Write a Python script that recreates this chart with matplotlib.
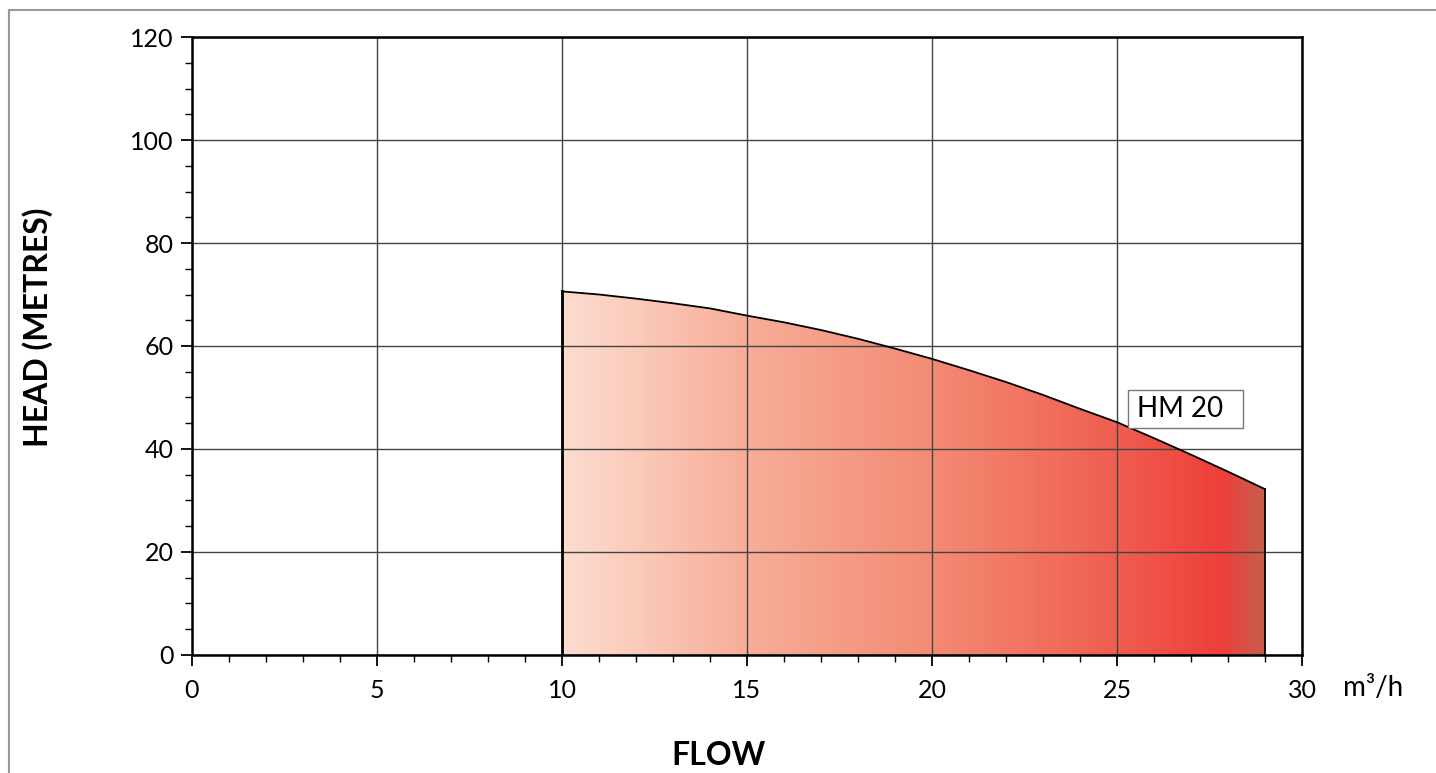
import numpy as np
import matplotlib.pyplot as plt
from matplotlib.colors import LinearSegmentedColormap
from matplotlib.patches import Rectangle

# pump curve HM 20
flow = [10, 11, 12, 13, 14, 15, 16, 17, 18, 19, 20,
        21, 22, 23, 24, 25, 26, 27, 28, 29]
head = [70.6, 70.0, 69.2, 68.3, 67.3, 65.9, 64.6, 63.1, 61.4, 59.5, 57.5,
        55.3, 53.0, 50.5, 47.8, 45.2, 42.1, 38.9, 35.6, 32.2]
model = "HM 20"

xticks = [0, 5, 10, 15, 20, 25, 30]
yticks = [0, 20, 40, 60, 80, 100, 120]

plt.rcParams['font.family'] = ['Lato', 'DejaVu Sans']

fig = plt.figure(figsize=(14.36, 7.73), dpi=100)
ax = fig.add_axes([0.1337, 0.1527, 0.773, 0.7994])

# outer grey frame
fig.add_artist(Rectangle((0.0063, -0.1), 1.5, 1.087, transform=fig.transFigure,
                         fill=False, edgecolor='#999999', linewidth=1.5))

# gradient fill under the curve
cmap = LinearSegmentedColormap.from_list('pump', [
    (0.0, '#fcdccf'), (0.09, '#fbcdbd'), (0.26, '#f7ad98'), (0.53, '#f38a73'),
    (0.79, '#ef5e50'), (0.94, '#ee3f3a'), (1.0, '#c75e4c')])
poly = ax.fill_between(flow, head, 0, facecolor='none', edgecolor='none')
grad = np.linspace(0, 1, 400).reshape(1, -1)
img = ax.imshow(grad, cmap=cmap, aspect='auto', extent=[flow[0], flow[-1], 0, max(head)],
                zorder=1)
img.set_clip_path(poly.get_paths()[0], transform=ax.transData)

ax.plot(flow, head, color='black', linewidth=1.3, zorder=3)
ax.plot([flow[0], flow[0]], [0, head[0]], color='black', linewidth=2, zorder=3)
ax.plot([flow[-1], flow[-1]], [0, head[-1]], color='black', linewidth=1.3, zorder=3)

ax.set_xlim(0, 30)
ax.set_ylim(0, 120)
ax.set_xticks(xticks)
ax.set_yticks(yticks)
ax.set_xticks(np.arange(0, 31, 1), minor=True)
ax.set_yticks(np.arange(0, 121, 5), minor=True)
ax.grid(True, which='major', color='#444444', linewidth=1.0, zorder=2)
ax.set_axisbelow(False)
for s in ax.spines.values():
    s.set_linewidth(1.8)
    s.set_zorder(4)

ax.tick_params(axis='both', which='major', direction='out', length=8, width=1.3,
               labelsize=18)
ax.tick_params(axis='both', which='minor', direction='out', length=5, width=1.0)
ax.tick_params(axis='x', pad=9)
ax.tick_params(axis='y', pad=5)

ax.text(31.1, -6.4, 'm³/h', fontsize=20, ha='left', va='center')

# label box for the curve
ax.add_patch(Rectangle((25.3, 44.1), 3.1, 7.4, facecolor='white', edgecolor='#777777',
                       linewidth=1, zorder=5, clip_on=False))
ax.text(25.55, 47.8, model, fontsize=20, ha='left', va='center', zorder=6)

fig.text(0.5, 0.0103, 'FLOW', fontsize=23, fontweight='bold', ha='center', va='baseline')
fig.text(0.026, 0.576, 'HEAD (METRES)', fontsize=23, fontweight='bold', rotation=90,
         ha='center', va='center')

fig.savefig('out.png', dpi=100)
